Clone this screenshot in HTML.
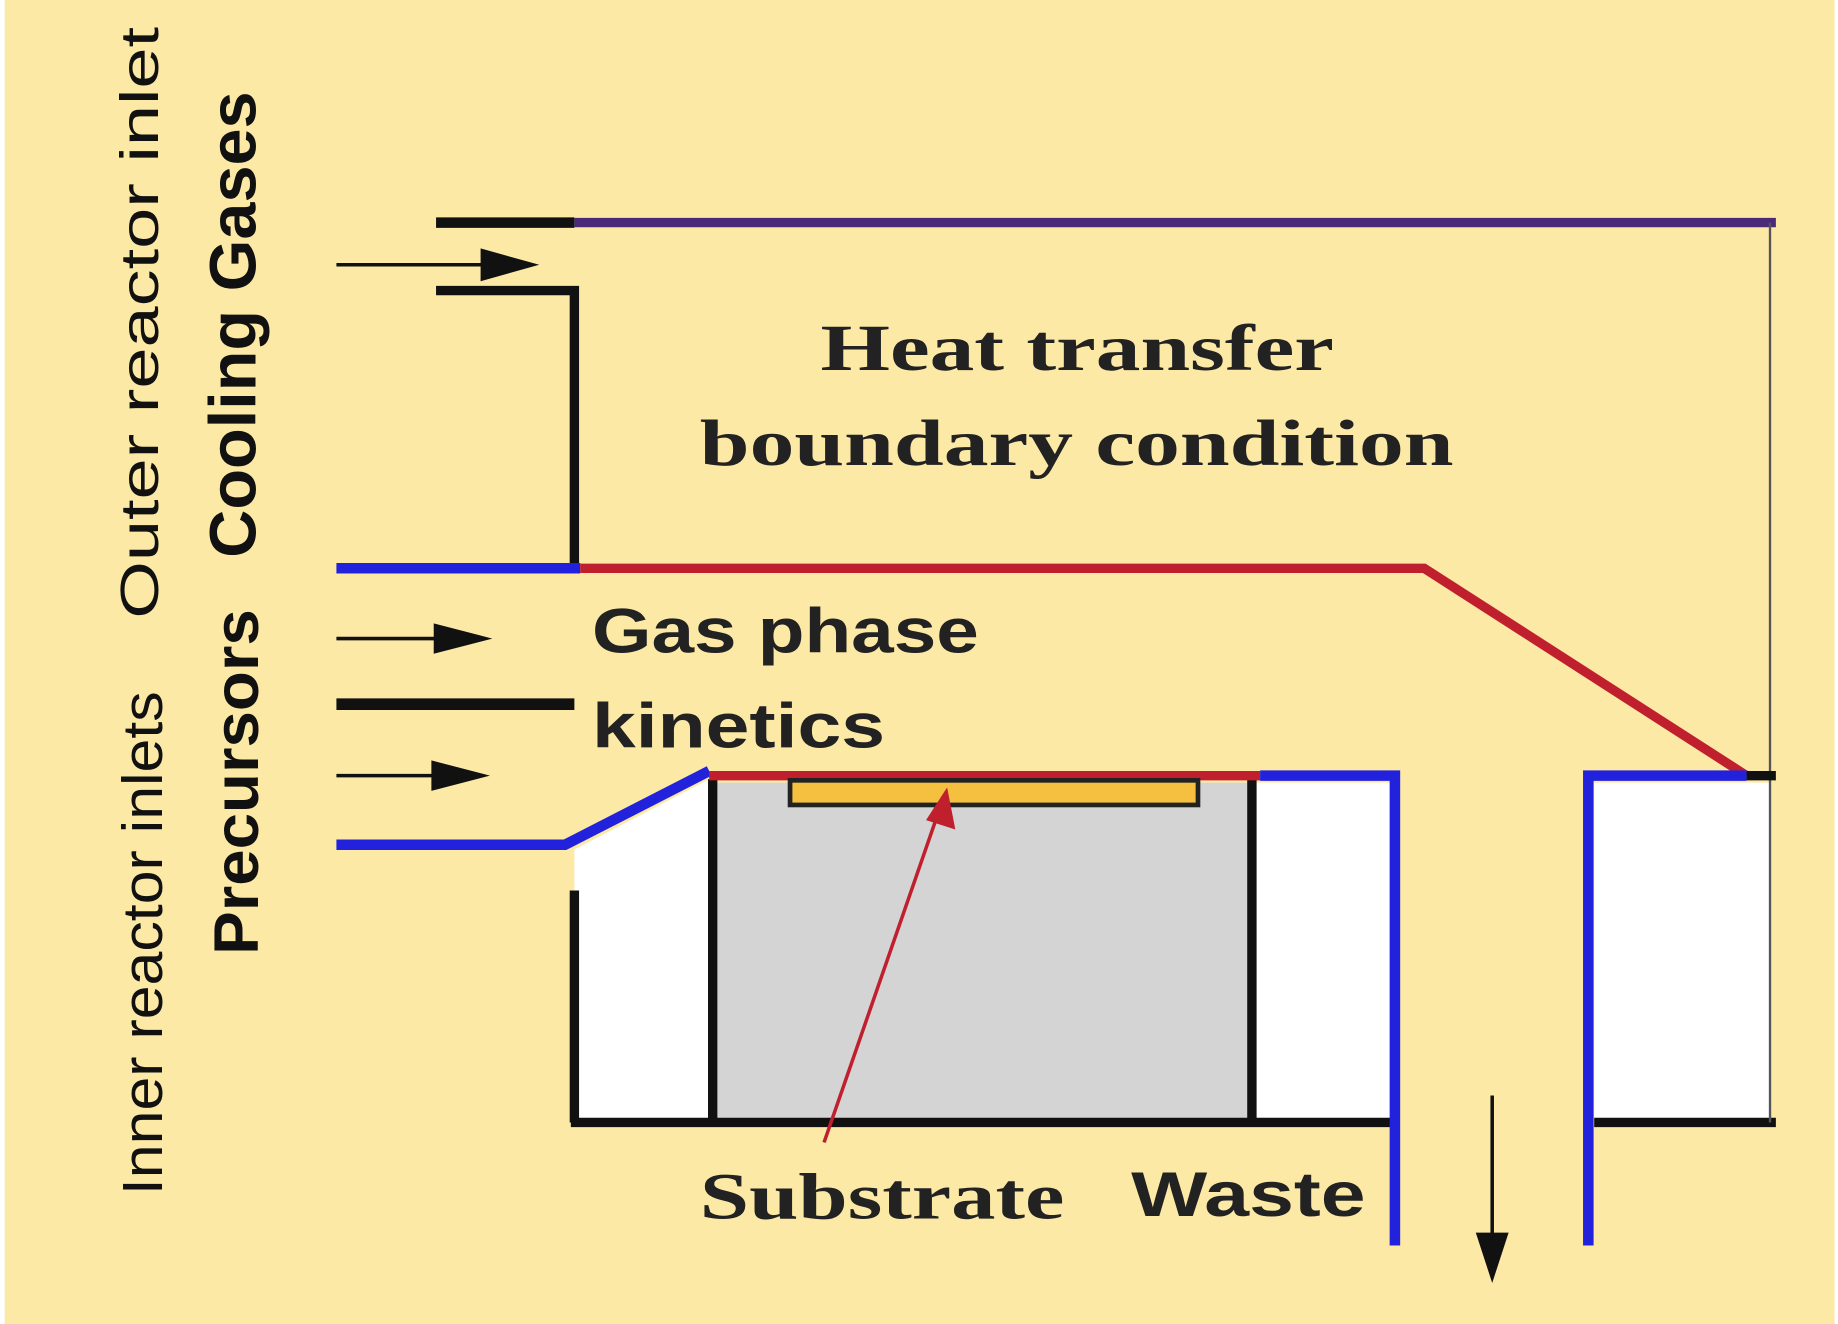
<!DOCTYPE html>
<html><head><style>html,body{margin:0;padding:0;background:#fff}svg{display:block}</style></head>
<body>
<svg width="1838" height="1324" viewBox="0 0 1568 1130" preserveAspectRatio="none" xmlns="http://www.w3.org/2000/svg">
<rect x="4" y="0" width="1561" height="1130" fill="#fce9a6"/>
<line x1="372" y1="190" x2="490" y2="190" stroke="#111" stroke-width="9"/>
<line x1="490" y1="190" x2="1515" y2="190" stroke="#4a2a78" stroke-width="8"/>
<line x1="1510" y1="190" x2="1510" y2="662" stroke="#555" stroke-width="2"/>
<line x1="287" y1="226" x2="420" y2="226" stroke="#111" stroke-width="3"/>
<polygon points="410,212 460,226 410,240" fill="#111"/>
<polyline points="372,248 490,248 490,485" fill="none" stroke="#111" stroke-width="8"/>
<line x1="287" y1="485" x2="495" y2="485" stroke="#2222dd" stroke-width="9"/>
<polyline points="495,485 1215,485 1490,662" fill="none" stroke="#c0202e" stroke-width="8"/>
<line x1="287" y1="545" x2="380" y2="545" stroke="#111" stroke-width="3"/>
<polygon points="370,532 420,545 370,558" fill="#111"/>
<line x1="287" y1="601" x2="490" y2="601" stroke="#111" stroke-width="10"/>
<line x1="287" y1="662" x2="380" y2="662" stroke="#111" stroke-width="3"/>
<polygon points="368,649 418,662 368,675" fill="#111"/>
<polygon points="490,725 605,665 605,955 490,955" fill="#fff"/>
<rect x="612" y="668" width="453" height="287" fill="#d4d4d4"/>
<rect x="1072" y="668" width="115" height="287" fill="#fff"/>
<rect x="1360" y="668" width="150" height="287" fill="#fff"/>
<line x1="490" y1="760" x2="490" y2="958" stroke="#111" stroke-width="8"/>
<line x1="608" y1="665" x2="608" y2="958" stroke="#111" stroke-width="8"/>
<line x1="1068" y1="665" x2="1068" y2="958" stroke="#111" stroke-width="8"/>
<line x1="487" y1="958" x2="1188" y2="958" stroke="#111" stroke-width="8"/>
<line x1="1360" y1="958" x2="1515" y2="958" stroke="#111" stroke-width="8"/>
<line x1="1510" y1="662" x2="1510" y2="958" stroke="#555" stroke-width="2"/>
<polyline points="287,721 482,721 605,658" fill="none" stroke="#2222dd" stroke-width="9"/>
<line x1="605" y1="662" x2="1075" y2="662" stroke="#c0202e" stroke-width="8"/>
<polyline points="1075,662 1190,662 1190,1063" fill="none" stroke="#2222dd" stroke-width="9"/>
<polyline points="1355,1063 1355,662 1490,662" fill="none" stroke="#2222dd" stroke-width="9"/>
<line x1="1490" y1="662" x2="1515" y2="662" stroke="#111" stroke-width="8"/>
<rect x="674" y="666" width="348" height="21" fill="#f5c040" stroke="#222" stroke-width="4"/>
<line x1="703" y1="975" x2="800" y2="695" stroke="#c0202e" stroke-width="3"/>
<polygon points="808,672 815,708 790,700" fill="#c0202e"/>
<line x1="1273" y1="935" x2="1273" y2="1060" stroke="#111" stroke-width="3"/>
<polygon points="1259,1052 1273,1095 1287,1052" fill="#111"/>
<g font-family="Liberation Serif, serif" font-weight="bold" fill="#222" font-size="56">
<text x="700" y="316" textLength="438" lengthAdjust="spacingAndGlyphs">Heat transfer</text>
<text x="597" y="397" textLength="643" lengthAdjust="spacingAndGlyphs">boundary condition</text>
<text x="597" y="1040" textLength="311" lengthAdjust="spacingAndGlyphs">Substrate</text>
</g>
<g font-family="Liberation Sans, sans-serif" fill="#222" font-size="54" font-weight="bold">
<text x="505" y="557" textLength="330" lengthAdjust="spacingAndGlyphs">Gas phase</text>
<text x="505" y="638" textLength="250" lengthAdjust="spacingAndGlyphs">kinetics</text>
<text x="965" y="1038" textLength="200" lengthAdjust="spacingAndGlyphs">Waste</text>
</g>
<g font-family="Liberation Sans, sans-serif" fill="#111">
<text transform="translate(135,528) rotate(-90)" font-size="46" textLength="505" lengthAdjust="spacingAndGlyphs">Outer reactor inlet</text>
<text transform="translate(218,476) rotate(-90)" font-size="56" font-weight="bold" textLength="398" lengthAdjust="spacingAndGlyphs">Cooling Gases</text>
<text transform="translate(138,1020) rotate(-90)" font-size="48" textLength="430" lengthAdjust="spacingAndGlyphs">Inner reactor inlets</text>
<text transform="translate(220,815) rotate(-90)" font-size="54" font-weight="bold" textLength="295" lengthAdjust="spacingAndGlyphs">Precursors</text>
</g>
</svg>
</body></html>
